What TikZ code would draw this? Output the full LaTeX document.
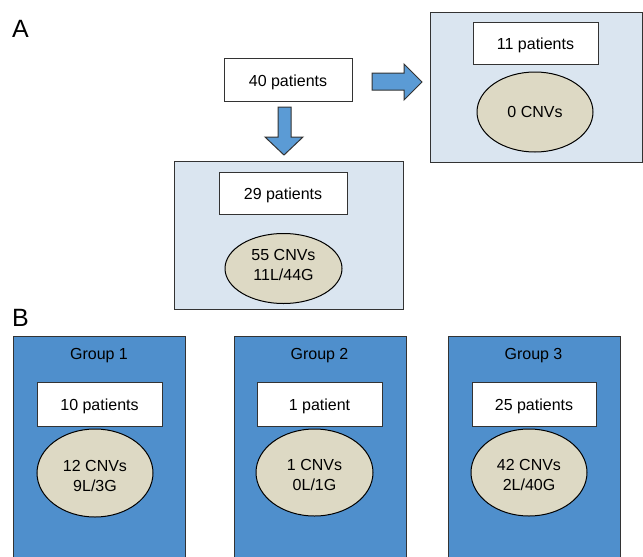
\documentclass[tikz,border=0pt]{standalone}
\usepackage{fontspec}
\setmainfont{Liberation Sans}
\usetikzlibrary{shapes.geometric}
\definecolor{panelA}{HTML}{DAE5F0}
\definecolor{panelB}{HTML}{4F8FCC}
\definecolor{ovalfill}{HTML}{DDD9C4}
\definecolor{arrowfill}{HTML}{5B9BD5}
\definecolor{edge}{HTML}{333333}
\newcommand{\topstrut}{\rule{0pt}{17pt}}
\tikzset{
  panelbox/.style={draw=edge, line width=1pt, fill=panelA},
  patbox/.style={draw=edge, line width=1pt, fill=white, inner sep=0pt, text height=13.2pt, text depth=0pt, font=\fontsize{16}{20}\selectfont},
  cnvoval/.style={ellipse, draw=black, line width=1pt, fill=ovalfill, inner sep=0pt, align=center, font=\fontsize{16}{20}\selectfont},
  blockarrow/.style={draw=edge, line width=1pt, fill=arrowfill, line join=miter},
  grouplabel/.style={font=\fontsize{16}{20}\selectfont, inner sep=0pt, text height=11.5pt, text depth=0pt},
  panellabel/.style={font=\fontsize{25}{30}\selectfont, inner sep=0pt, anchor=base west}
}
\begin{document}
\begin{tikzpicture}[x=1pt,y=-1pt]
\useasboundingbox (0,0) rectangle (643,557);
% panel labels
\node[panellabel] (labA) at (12,37) {A};
\node[panellabel] (labB) at (12,326) {B};
% panel A
\node[patbox, minimum width=128pt, minimum height=43pt] (p40) at (288,79.5) {40 patients};
\draw[panelbox] (430,12) rectangle (642,162);
\node[patbox, minimum width=125pt, minimum height=42pt] (p11) at (535.5,43) {11 patients};
\node[cnvoval, minimum width=116pt, minimum height=80pt] (c0) at (535,112) {0 CNVs};
\draw[panelbox] (174,161) rectangle (403,309);
\node[patbox, minimum width=128pt, minimum height=42pt] (p29) at (283,193) {29 patients};
\node[cnvoval, minimum width=117pt, minimum height=70pt, text depth=8pt] (c55) at (283.5,268.5) {55 CNVs\\11L/44G};
% block arrows
\draw[blockarrow] (372,73) -- (404,73) -- (404,64) -- (422,82) -- (404,100) -- (404,90) -- (372,90) -- cycle;
\draw[blockarrow] (278,107) -- (291,107) -- (291,137) -- (303,137) -- (284,155) -- (265,137) -- (278,137) -- cycle;
% panel B
\foreach \x/\n in {13/1,234/2,448/3}{
  \fill[panelB] (\x,336) rectangle ++(172,221);
  \draw[edge, line width=1pt] (\x,557) -- (\x,336) -- ++(172,0) -- ++(0,221);
}
\node[grouplabel] (g1) at (99,354) {Group 1};
\node[grouplabel] (g2) at (319.5,354) {Group 2};
\node[grouplabel] (g3) at (533.5,354) {Group 3};
\node[patbox, minimum width=125pt, minimum height=44pt] (p10) at (99.5,404) {10 patients};
\node[patbox, minimum width=125pt, minimum height=44pt] (p1) at (319.5,404) {1 patient};
\node[patbox, minimum width=124pt, minimum height=44pt] (p25) at (534,404) {25 patients};
\node[cnvoval, minimum width=116pt, minimum height=88pt] (c12) at (95,473) {\topstrut 12 CNVs\\9L/3G};
\node[cnvoval, minimum width=117pt, minimum height=87pt] (c1) at (314.5,472.5) {\topstrut 1 CNVs\\0L/1G};
\node[cnvoval, minimum width=116pt, minimum height=87pt] (c42) at (529,472.5) {\topstrut 42 CNVs\\2L/40G};
\end{tikzpicture}
\end{document}
